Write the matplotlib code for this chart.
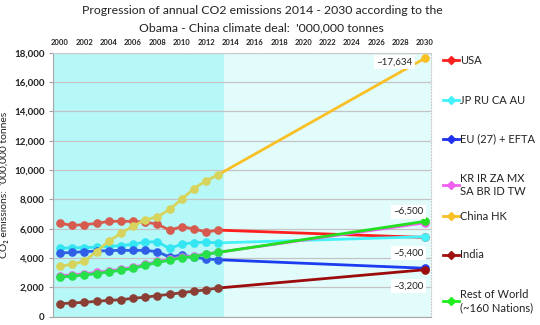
import matplotlib
matplotlib.use("Agg")
import matplotlib.pyplot as plt
from matplotlib.lines import Line2D
from matplotlib.ticker import FuncFormatter, MultipleLocator

plt.rcParams['font.family'] = ['Lato', 'DejaVu Sans']

# ---- data ('000,000 tonnes CO2) ----
hist_years = list(range(2000, 2014))
target_year = 2030

series_names = ["USA", "JP RU CA AU", "EU (27) + EFTA", "KR IR ZA MX\nSA BR ID TW",
                "China HK", "India", "Rest of World\n(~160 Nations)"]

usa_hist = [6360, 6230, 6270, 6360, 6500, 6500, 6500, 6450, 6310, 5900, 6130, 5990, 5770, 5900]
jrca_hist = [4660, 4700, 4700, 4750, 4790, 4840, 4940, 5090, 5100, 4650, 4940, 5050, 5080, 5030]
eu_hist = [4340, 4380, 4430, 4470, 4500, 4520, 4520, 4520, 4430, 4060, 4200, 4060, 3930, 3880]
kr_hist = [2800, 2840, 2930, 3010, 3120, 3240, 3360, 3560, 3760, 3900, 4070, 4130, 4280, 4390]
china_hist = [3440, 3570, 3780, 4440, 5150, 5680, 6180, 6590, 6810, 7310, 8010, 8740, 9270, 9680]
india_hist = [880, 930, 975, 1040, 1110, 1150, 1250, 1320, 1430, 1520, 1630, 1730, 1830, 1950]
row_hist = [2700, 2750, 2840, 2930, 3040, 3160, 3290, 3500, 3700, 3840, 4020, 4090, 4250, 4380]

target_2030 = [5400, 5450, 3300, 6400, 17634, 3200, 6500]

# value labels at 2030
label_texts = ["~17,634", "~6,500", "~5,400", "~3,200"]
label_values = [17634, 6500, 5400, 3200]
label_offsets = [(-9, -3), (-1, 7), (-1, -11), (-1, -12)]

hist_colors = ["#d65a4e", "#34e6f2", "#2f5fe6", "#e070e0", "#d6d45c", "#8a3e34", "#26e04a"]
proj_colors = ["#ff1e1e", "#44f2fa", "#1c3cf0", "#f060f0", "#f8c024", "#9c0c0c", "#20e020"]
legend_colors = ["#ff2020", "#44f2fa", "#2030f0", "#f060f0", "#f8c024", "#a01010", "#20ee20"]

hist_series = [usa_hist, jrca_hist, eu_hist, kr_hist, china_hist, india_hist, row_hist]

fig = plt.figure(figsize=(5.4, 3.25), dpi=100)
ax = fig.add_axes([53 / 540, 1 - 316.6 / 325, (431 - 53) / 540, (316.6 - 52.8) / 325])

x_lo, x_hi = 1999.42, 2030.49
ax.set_xlim(x_lo, x_hi)
ax.set_ylim(0, 18000)

# historical and projection backgrounds
ax.axvspan(x_lo, 2013.45, color="#b6f8f8", zorder=0, lw=0)
ax.axvspan(2013.45, x_hi, color="#e2fcfc", zorder=0, lw=0)

ax.yaxis.set_major_locator(MultipleLocator(2000))
ax.grid(axis="y", color="#c4c4c4", lw=0.9, zorder=1)
ax.yaxis.set_major_formatter(FuncFormatter(lambda v, p: f"{int(v):,}"))

for i, vals in enumerate(hist_series):
    ax.plot([hist_years[-1], target_year], [vals[-1], target_2030[i]],
            color=proj_colors[i], lw=2.0, zorder=3 + i, solid_capstyle="round")
    ax.plot([target_year], [target_2030[i]], marker="o", ms=5.2,
            color=proj_colors[i], zorder=3 + i, clip_on=False)
    ax.plot(hist_years, vals, color=hist_colors[i], lw=2.0, marker="o", ms=5.2,
            zorder=3 + i)

for txt, val, offs in zip(label_texts, label_values, label_offsets):
    ax.annotate(txt, (target_year, val), xytext=offs, textcoords="offset points",
                ha="right", va="center", fontsize=7, color="#222222",
                bbox=dict(boxstyle="square,pad=0.25", fc="white", ec="none"), zorder=20)

ax.xaxis.set_ticks_position("top")
ax.set_xticks(list(range(2000, 2031, 2)))
ax.tick_params(axis="x", length=0, pad=5, labelsize=5.5, labelcolor="#222222")
for t in ax.get_xticklabels():
    t.set_fontweight("bold")
ax.tick_params(axis="y", length=3, color="#a0a0a0", pad=3, labelsize=7, labelcolor="#222222")
for t in ax.get_yticklabels():
    t.set_fontweight("bold")

for side in ["top", "right"]:
    ax.spines[side].set_color("#cccccc")
    ax.spines[side].set_linestyle(":")
ax.spines["left"].set_color("#a8a8a8")
ax.spines["bottom"].set_color("#a8a8a8")

ax.set_ylabel("CO\u2082 emissions:  '000,000 tonnes", fontsize=7.5, color="#222222", labelpad=4)

fig.text(0.485, 0.985, "Progression of annual CO2 emissions 2014 - 2030 according to the",
         ha="center", va="top", fontsize=8.8, color="#222222")
fig.text(0.485, 0.932, "Obama - China climate deal:  '000,000 tonnes",
         ha="center", va="top", fontsize=8.8, color="#222222")

# legend, drawn in figure pixels
legend_y = [60, 100, 139, 185, 216, 255, 301]
for name, col, yy in zip(series_names, legend_colors, legend_y):
    yf = 1 - yy / 325
    fig.add_artist(Line2D([443 / 540, 459 / 540], [yf, yf], color=col, lw=2.0,
                          transform=fig.transFigure))
    fig.add_artist(Line2D([451 / 540], [yf], color=col, marker="D", ms=4,
                          transform=fig.transFigure))
    fig.text(460 / 540, yf, name, ha="left", va="center", fontsize=8,
             color="#222222", linespacing=1.3)

fig.savefig("out.png", dpi=100)
